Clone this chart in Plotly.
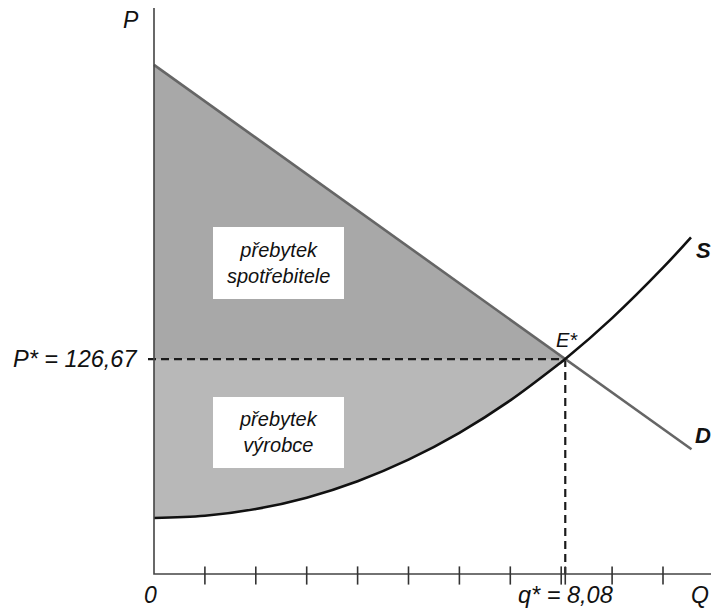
import plotly.graph_objects as go

# ---- data ----
q_star = 8.08
p_star = 126.67

demand_q = [0.0, 10.56]
demand_p = [300.0, 73.5]

supply_q = [0, 1, 2, 3, 4, 5, 6, 7, 8, 8.08, 9, 10, 10.55]
supply_p = [33.0, 34.3, 38.3, 45.0, 54.7, 67.4, 83.2, 102.3, 124.8, 126.67, 150.8, 180.5, 198.4]

tick_q = [1, 2, 3, 4, 5, 6, 7, 8, q_star, 9, 10]

FONT = "Liberation Sans, Arial, sans-serif"

# page geometry: the page body has an 8px margin; origin (q=0,P=0) at page px (154, 574)
OFF = 8
PX_Q = 50.9     # px per unit of Q
PX_P = 1.697    # px per unit of P
W, H = 719 - OFF, 612 - OFF


def px2q(x):
    return (x - 154) / PX_Q


def px2p(y):
    return (574 - y) / PX_P


XR = [px2q(OFF), px2q(OFF + W)]
YR = [px2p(OFF + H), px2p(OFF)]

fig = go.Figure()

# consumer surplus
fig.add_trace(go.Scatter(
    x=[0, q_star, 0, 0], y=[demand_p[0], p_star, p_star, demand_p[0]],
    fill="toself", fillcolor="#a8a8a8", line=dict(width=0), mode="lines",
    hoverinfo="skip", showlegend=False))

# producer surplus
ps_q = [q for q in supply_q if q <= q_star]
ps_p = [p for q, p in zip(supply_q, supply_p) if q <= q_star]
fig.add_trace(go.Scatter(
    x=[0] + ps_q[::-1] + [0], y=[p_star] + ps_p[::-1] + [p_star],
    fill="toself", fillcolor="#b8b8b8", line=dict(width=0), mode="lines",
    hoverinfo="skip", showlegend=False))

# dashed guide lines
fig.add_trace(go.Scatter(
    x=[px2q(148), q_star], y=[p_star, p_star], mode="lines",
    line=dict(color="#1a1a1a", width=2.2, dash="8px,5px"),
    hoverinfo="skip", showlegend=False))
fig.add_trace(go.Scatter(
    x=[q_star, q_star], y=[p_star, 0], mode="lines",
    line=dict(color="#1a1a1a", width=2.2, dash="8px,5px"),
    hoverinfo="skip", showlegend=False))

# demand
fig.add_trace(go.Scatter(
    x=demand_q, y=demand_p, mode="lines",
    line=dict(color="#666666", width=2.6), showlegend=False))

# supply
fig.add_trace(go.Scatter(
    x=supply_q, y=supply_p, mode="lines", line_shape="spline",
    line=dict(color="#111111", width=2.6), showlegend=False))

# axis lines
fig.add_trace(go.Scatter(
    x=[0, 0, px2q(717)], y=[px2p(8), 0, 0], mode="lines",
    line=dict(color="#444444", width=1.6), hoverinfo="skip", showlegend=False))

# ticks
fig.add_trace(go.Scatter(
    x=tick_q, y=[px2p(575.5)] * len(tick_q), mode="markers",
    marker=dict(symbol="line-ns", size=13, line=dict(color="#333333", width=1.6)),
    hoverinfo="skip", showlegend=False))

# white label boxes
for (x0, y0, x1, y1) in [(213, 227, 344, 299), (213, 397, 344, 468)]:
    fig.add_shape(type="rect", xref="x", yref="y",
                  x0=px2q(x0), x1=px2q(x1), y0=px2p(y1), y1=px2p(y0),
                  fillcolor="white", line=dict(width=0), layer="above")

ann = [
    ("přebytek<br>spotřebitele", px2q(278.5), px2p(263), "center", 20, False),
    ("přebytek<br>výrobce", px2q(278.5), px2p(432), "center", 20, False),
    ("P* = 126,67", px2q(139), p_star, "right", 23.5, False),
    ("q* = 8,08", q_star, px2p(595), "center", 23.5, False),
    ("0", px2q(150), px2p(595), "center", 23, False),
    ("Q", px2q(700), px2p(595), "center", 23, False),
    ("P", px2q(131), px2p(20), "center", 23, False),
    ("E*", px2q(567), px2p(340), "center", 20, False),
    ("S", px2q(703), px2p(250), "center", 22, True),
    ("D", px2q(703), px2p(435), "center", 22, True),
]
for text, x, y, xa, size, bold in ann:
    fig.add_annotation(
        x=x, y=y, xref="x", yref="y", text=("<b>%s</b>" % text) if bold else text,
        showarrow=False, xanchor=xa, yanchor="middle", align="center",
        font=dict(family=FONT, size=size, color="#111111", style="italic"))

fig.update_layout(
    width=W, height=H,
    margin=dict(l=0, r=0, t=0, b=0, pad=0),
    plot_bgcolor="white", paper_bgcolor="white",
    xaxis=dict(range=XR, visible=False, fixedrange=True),
    yaxis=dict(range=YR, visible=False, fixedrange=True),
    showlegend=False,
)

fig.write_html("out.html")
